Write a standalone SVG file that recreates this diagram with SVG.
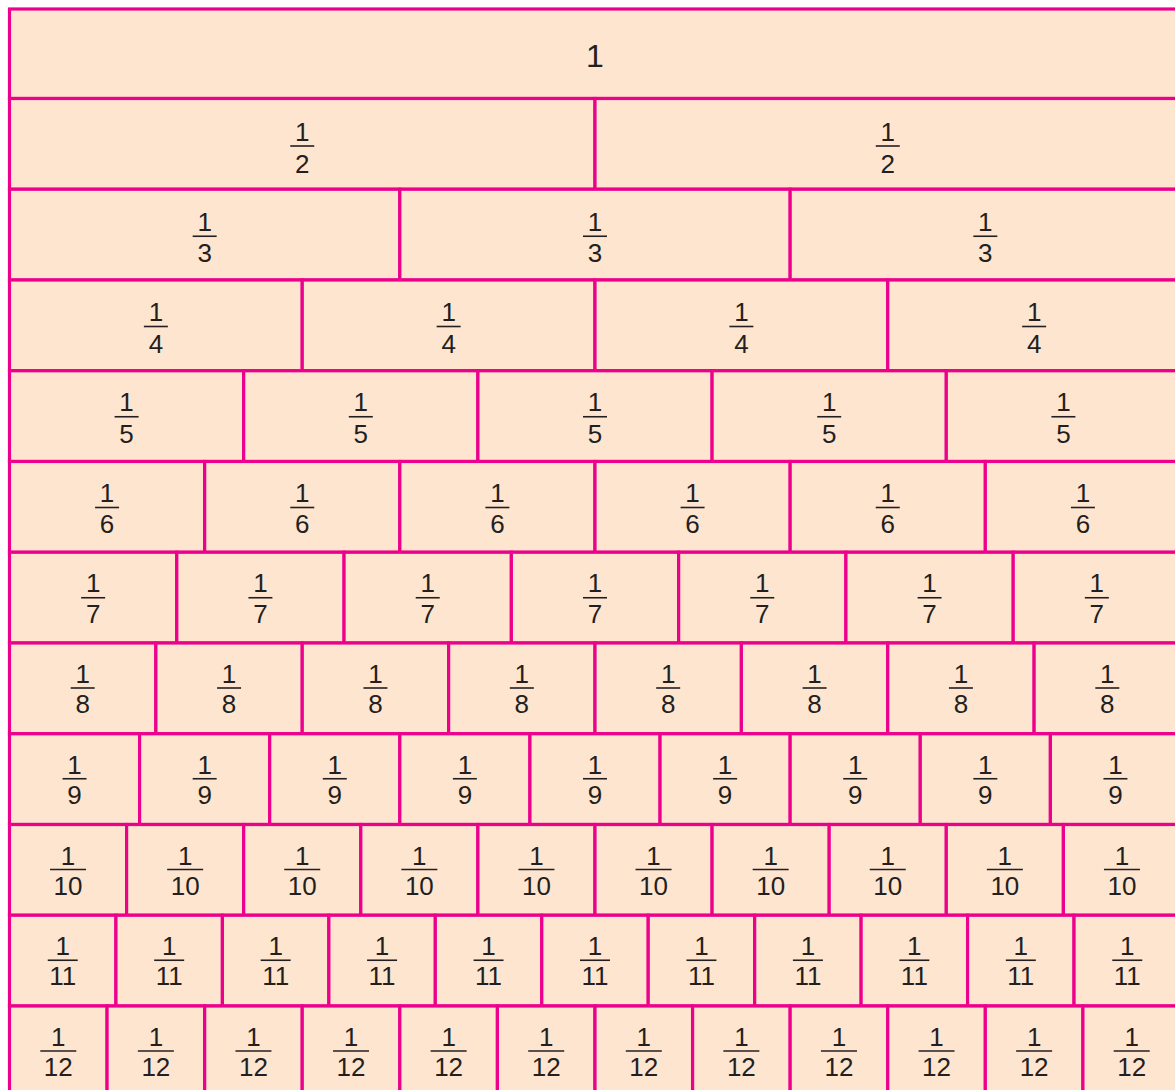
<svg xmlns="http://www.w3.org/2000/svg" width="1175" height="1090" viewBox="0 0 1175 1090">
<style>
.cell{fill:#fde5d0;stroke:#ec008c;stroke-width:3.2}
.t{font-family:"Liberation Sans","DejaVu Sans",sans-serif;font-size:26px;fill:#231f20;text-anchor:middle}
.big{font-size:32px}
.bar{stroke:#231f20;stroke-width:1.6}
</style>
<rect width="1175" height="1090" fill="#ffffff"/>
<g id="connectors"/>
<g id="row1" transform="translate(0,9)">
<g id="c1-1" transform="translate(9.5,0)"><rect class="cell" width="1171" height="89.5"/><text class="t big" x="585.5" y="58">1</text></g>
</g>
<g id="row2" transform="translate(0,98.5)">
<g id="c2-1" transform="translate(9.5,0)"><rect class="cell" width="585.5" height="90.75"/><text class="t" x="292.75" y="42">1</text><line class="bar" x1="280.75" x2="304.75" y1="47.5" y2="47.5"/><text class="t" x="292.75" y="74">2</text></g>
<g id="c2-2" transform="translate(595,0)"><rect class="cell" width="585.5" height="90.75"/><text class="t" x="292.75" y="42">1</text><line class="bar" x1="280.75" x2="304.75" y1="47.5" y2="47.5"/><text class="t" x="292.75" y="74">2</text></g>
</g>
<g id="row3" transform="translate(0,189.25)">
<g id="c3-1" transform="translate(9.5,0)"><rect class="cell" width="390.33" height="90.75"/><text class="t" x="195.17" y="41.5">1</text><line class="bar" x1="183.17" x2="207.17" y1="47" y2="47"/><text class="t" x="195.17" y="73">3</text></g>
<g id="c3-2" transform="translate(399.83,0)"><rect class="cell" width="390.33" height="90.75"/><text class="t" x="195.17" y="41.5">1</text><line class="bar" x1="183.17" x2="207.17" y1="47" y2="47"/><text class="t" x="195.17" y="73">3</text></g>
<g id="c3-3" transform="translate(790.17,0)"><rect class="cell" width="390.33" height="90.75"/><text class="t" x="195.17" y="41.5">1</text><line class="bar" x1="183.17" x2="207.17" y1="47" y2="47"/><text class="t" x="195.17" y="73">3</text></g>
</g>
<g id="row4" transform="translate(0,280)">
<g id="c4-1" transform="translate(9.5,0)"><rect class="cell" width="292.75" height="90.75"/><text class="t" x="146.38" y="41">1</text><line class="bar" x1="134.38" x2="158.38" y1="46.5" y2="46.5"/><text class="t" x="146.38" y="72.5">4</text></g>
<g id="c4-2" transform="translate(302.25,0)"><rect class="cell" width="292.75" height="90.75"/><text class="t" x="146.38" y="41">1</text><line class="bar" x1="134.38" x2="158.38" y1="46.5" y2="46.5"/><text class="t" x="146.38" y="72.5">4</text></g>
<g id="c4-3" transform="translate(595,0)"><rect class="cell" width="292.75" height="90.75"/><text class="t" x="146.38" y="41">1</text><line class="bar" x1="134.38" x2="158.38" y1="46.5" y2="46.5"/><text class="t" x="146.38" y="72.5">4</text></g>
<g id="c4-4" transform="translate(887.75,0)"><rect class="cell" width="292.75" height="90.75"/><text class="t" x="146.38" y="41">1</text><line class="bar" x1="134.38" x2="158.38" y1="46.5" y2="46.5"/><text class="t" x="146.38" y="72.5">4</text></g>
</g>
<g id="row5" transform="translate(0,370.75)">
<g id="c5-1" transform="translate(9.5,0)"><rect class="cell" width="234.2" height="90.75"/><text class="t" x="117.1" y="40.5">1</text><line class="bar" x1="105.1" x2="129.1" y1="46" y2="46"/><text class="t" x="117.1" y="72">5</text></g>
<g id="c5-2" transform="translate(243.7,0)"><rect class="cell" width="234.2" height="90.75"/><text class="t" x="117.1" y="40.5">1</text><line class="bar" x1="105.1" x2="129.1" y1="46" y2="46"/><text class="t" x="117.1" y="72">5</text></g>
<g id="c5-3" transform="translate(477.9,0)"><rect class="cell" width="234.2" height="90.75"/><text class="t" x="117.1" y="40.5">1</text><line class="bar" x1="105.1" x2="129.1" y1="46" y2="46"/><text class="t" x="117.1" y="72">5</text></g>
<g id="c5-4" transform="translate(712.1,0)"><rect class="cell" width="234.2" height="90.75"/><text class="t" x="117.1" y="40.5">1</text><line class="bar" x1="105.1" x2="129.1" y1="46" y2="46"/><text class="t" x="117.1" y="72">5</text></g>
<g id="c5-5" transform="translate(946.3,0)"><rect class="cell" width="234.2" height="90.75"/><text class="t" x="117.1" y="40.5">1</text><line class="bar" x1="105.1" x2="129.1" y1="46" y2="46"/><text class="t" x="117.1" y="72">5</text></g>
</g>
<g id="row6" transform="translate(0,461.5)">
<g id="c6-1" transform="translate(9.5,0)"><rect class="cell" width="195.17" height="90.75"/><text class="t" x="97.58" y="40.5">1</text><line class="bar" x1="85.58" x2="109.58" y1="46" y2="46"/><text class="t" x="97.58" y="71.5">6</text></g>
<g id="c6-2" transform="translate(204.67,0)"><rect class="cell" width="195.17" height="90.75"/><text class="t" x="97.58" y="40.5">1</text><line class="bar" x1="85.58" x2="109.58" y1="46" y2="46"/><text class="t" x="97.58" y="71.5">6</text></g>
<g id="c6-3" transform="translate(399.83,0)"><rect class="cell" width="195.17" height="90.75"/><text class="t" x="97.58" y="40.5">1</text><line class="bar" x1="85.58" x2="109.58" y1="46" y2="46"/><text class="t" x="97.58" y="71.5">6</text></g>
<g id="c6-4" transform="translate(595,0)"><rect class="cell" width="195.17" height="90.75"/><text class="t" x="97.58" y="40.5">1</text><line class="bar" x1="85.58" x2="109.58" y1="46" y2="46"/><text class="t" x="97.58" y="71.5">6</text></g>
<g id="c6-5" transform="translate(790.17,0)"><rect class="cell" width="195.17" height="90.75"/><text class="t" x="97.58" y="40.5">1</text><line class="bar" x1="85.58" x2="109.58" y1="46" y2="46"/><text class="t" x="97.58" y="71.5">6</text></g>
<g id="c6-6" transform="translate(985.33,0)"><rect class="cell" width="195.17" height="90.75"/><text class="t" x="97.58" y="40.5">1</text><line class="bar" x1="85.58" x2="109.58" y1="46" y2="46"/><text class="t" x="97.58" y="71.5">6</text></g>
</g>
<g id="row7" transform="translate(0,552.25)">
<g id="c7-1" transform="translate(9.5,0)"><rect class="cell" width="167.29" height="90.75"/><text class="t" x="83.64" y="40">1</text><line class="bar" x1="71.64" x2="95.64" y1="45.5" y2="45.5"/><text class="t" x="83.64" y="71">7</text></g>
<g id="c7-2" transform="translate(176.79,0)"><rect class="cell" width="167.29" height="90.75"/><text class="t" x="83.64" y="40">1</text><line class="bar" x1="71.64" x2="95.64" y1="45.5" y2="45.5"/><text class="t" x="83.64" y="71">7</text></g>
<g id="c7-3" transform="translate(344.07,0)"><rect class="cell" width="167.29" height="90.75"/><text class="t" x="83.64" y="40">1</text><line class="bar" x1="71.64" x2="95.64" y1="45.5" y2="45.5"/><text class="t" x="83.64" y="71">7</text></g>
<g id="c7-4" transform="translate(511.36,0)"><rect class="cell" width="167.29" height="90.75"/><text class="t" x="83.64" y="40">1</text><line class="bar" x1="71.64" x2="95.64" y1="45.5" y2="45.5"/><text class="t" x="83.64" y="71">7</text></g>
<g id="c7-5" transform="translate(678.64,0)"><rect class="cell" width="167.29" height="90.75"/><text class="t" x="83.64" y="40">1</text><line class="bar" x1="71.64" x2="95.64" y1="45.5" y2="45.5"/><text class="t" x="83.64" y="71">7</text></g>
<g id="c7-6" transform="translate(845.93,0)"><rect class="cell" width="167.29" height="90.75"/><text class="t" x="83.64" y="40">1</text><line class="bar" x1="71.64" x2="95.64" y1="45.5" y2="45.5"/><text class="t" x="83.64" y="71">7</text></g>
<g id="c7-7" transform="translate(1013.21,0)"><rect class="cell" width="167.29" height="90.75"/><text class="t" x="83.64" y="40">1</text><line class="bar" x1="71.64" x2="95.64" y1="45.5" y2="45.5"/><text class="t" x="83.64" y="71">7</text></g>
</g>
<g id="row8" transform="translate(0,643)">
<g id="c8-1" transform="translate(9.5,0)"><rect class="cell" width="146.38" height="90.75"/><text class="t" x="73.19" y="40">1</text><line class="bar" x1="61.19" x2="85.19" y1="45" y2="45"/><text class="t" x="73.19" y="70">8</text></g>
<g id="c8-2" transform="translate(155.88,0)"><rect class="cell" width="146.38" height="90.75"/><text class="t" x="73.19" y="40">1</text><line class="bar" x1="61.19" x2="85.19" y1="45" y2="45"/><text class="t" x="73.19" y="70">8</text></g>
<g id="c8-3" transform="translate(302.25,0)"><rect class="cell" width="146.38" height="90.75"/><text class="t" x="73.19" y="40">1</text><line class="bar" x1="61.19" x2="85.19" y1="45" y2="45"/><text class="t" x="73.19" y="70">8</text></g>
<g id="c8-4" transform="translate(448.63,0)"><rect class="cell" width="146.38" height="90.75"/><text class="t" x="73.19" y="40">1</text><line class="bar" x1="61.19" x2="85.19" y1="45" y2="45"/><text class="t" x="73.19" y="70">8</text></g>
<g id="c8-5" transform="translate(595,0)"><rect class="cell" width="146.38" height="90.75"/><text class="t" x="73.19" y="40">1</text><line class="bar" x1="61.19" x2="85.19" y1="45" y2="45"/><text class="t" x="73.19" y="70">8</text></g>
<g id="c8-6" transform="translate(741.38,0)"><rect class="cell" width="146.38" height="90.75"/><text class="t" x="73.19" y="40">1</text><line class="bar" x1="61.19" x2="85.19" y1="45" y2="45"/><text class="t" x="73.19" y="70">8</text></g>
<g id="c8-7" transform="translate(887.75,0)"><rect class="cell" width="146.38" height="90.75"/><text class="t" x="73.19" y="40">1</text><line class="bar" x1="61.19" x2="85.19" y1="45" y2="45"/><text class="t" x="73.19" y="70">8</text></g>
<g id="c8-8" transform="translate(1034.13,0)"><rect class="cell" width="146.38" height="90.75"/><text class="t" x="73.19" y="40">1</text><line class="bar" x1="61.19" x2="85.19" y1="45" y2="45"/><text class="t" x="73.19" y="70">8</text></g>
</g>
<g id="row9" transform="translate(0,733.75)">
<g id="c9-1" transform="translate(9.5,0)"><rect class="cell" width="130.11" height="90.75"/><text class="t" x="65.06" y="40">1</text><line class="bar" x1="53.06" x2="77.06" y1="45" y2="45"/><text class="t" x="65.06" y="70">9</text></g>
<g id="c9-2" transform="translate(139.61,0)"><rect class="cell" width="130.11" height="90.75"/><text class="t" x="65.06" y="40">1</text><line class="bar" x1="53.06" x2="77.06" y1="45" y2="45"/><text class="t" x="65.06" y="70">9</text></g>
<g id="c9-3" transform="translate(269.72,0)"><rect class="cell" width="130.11" height="90.75"/><text class="t" x="65.06" y="40">1</text><line class="bar" x1="53.06" x2="77.06" y1="45" y2="45"/><text class="t" x="65.06" y="70">9</text></g>
<g id="c9-4" transform="translate(399.83,0)"><rect class="cell" width="130.11" height="90.75"/><text class="t" x="65.06" y="40">1</text><line class="bar" x1="53.06" x2="77.06" y1="45" y2="45"/><text class="t" x="65.06" y="70">9</text></g>
<g id="c9-5" transform="translate(529.94,0)"><rect class="cell" width="130.11" height="90.75"/><text class="t" x="65.06" y="40">1</text><line class="bar" x1="53.06" x2="77.06" y1="45" y2="45"/><text class="t" x="65.06" y="70">9</text></g>
<g id="c9-6" transform="translate(660.06,0)"><rect class="cell" width="130.11" height="90.75"/><text class="t" x="65.06" y="40">1</text><line class="bar" x1="53.06" x2="77.06" y1="45" y2="45"/><text class="t" x="65.06" y="70">9</text></g>
<g id="c9-7" transform="translate(790.17,0)"><rect class="cell" width="130.11" height="90.75"/><text class="t" x="65.06" y="40">1</text><line class="bar" x1="53.06" x2="77.06" y1="45" y2="45"/><text class="t" x="65.06" y="70">9</text></g>
<g id="c9-8" transform="translate(920.28,0)"><rect class="cell" width="130.11" height="90.75"/><text class="t" x="65.06" y="40">1</text><line class="bar" x1="53.06" x2="77.06" y1="45" y2="45"/><text class="t" x="65.06" y="70">9</text></g>
<g id="c9-9" transform="translate(1050.39,0)"><rect class="cell" width="130.11" height="90.75"/><text class="t" x="65.06" y="40">1</text><line class="bar" x1="53.06" x2="77.06" y1="45" y2="45"/><text class="t" x="65.06" y="70">9</text></g>
</g>
<g id="row10" transform="translate(0,824.5)">
<g id="c10-1" transform="translate(9.5,0)"><rect class="cell" width="117.1" height="90.75"/><text class="t" x="58.55" y="40">1</text><line class="bar" x1="40.55" x2="76.55" y1="45" y2="45"/><text class="t" x="58.55" y="70">10</text></g>
<g id="c10-2" transform="translate(126.6,0)"><rect class="cell" width="117.1" height="90.75"/><text class="t" x="58.55" y="40">1</text><line class="bar" x1="40.55" x2="76.55" y1="45" y2="45"/><text class="t" x="58.55" y="70">10</text></g>
<g id="c10-3" transform="translate(243.7,0)"><rect class="cell" width="117.1" height="90.75"/><text class="t" x="58.55" y="40">1</text><line class="bar" x1="40.55" x2="76.55" y1="45" y2="45"/><text class="t" x="58.55" y="70">10</text></g>
<g id="c10-4" transform="translate(360.8,0)"><rect class="cell" width="117.1" height="90.75"/><text class="t" x="58.55" y="40">1</text><line class="bar" x1="40.55" x2="76.55" y1="45" y2="45"/><text class="t" x="58.55" y="70">10</text></g>
<g id="c10-5" transform="translate(477.9,0)"><rect class="cell" width="117.1" height="90.75"/><text class="t" x="58.55" y="40">1</text><line class="bar" x1="40.55" x2="76.55" y1="45" y2="45"/><text class="t" x="58.55" y="70">10</text></g>
<g id="c10-6" transform="translate(595,0)"><rect class="cell" width="117.1" height="90.75"/><text class="t" x="58.55" y="40">1</text><line class="bar" x1="40.55" x2="76.55" y1="45" y2="45"/><text class="t" x="58.55" y="70">10</text></g>
<g id="c10-7" transform="translate(712.1,0)"><rect class="cell" width="117.1" height="90.75"/><text class="t" x="58.55" y="40">1</text><line class="bar" x1="40.55" x2="76.55" y1="45" y2="45"/><text class="t" x="58.55" y="70">10</text></g>
<g id="c10-8" transform="translate(829.2,0)"><rect class="cell" width="117.1" height="90.75"/><text class="t" x="58.55" y="40">1</text><line class="bar" x1="40.55" x2="76.55" y1="45" y2="45"/><text class="t" x="58.55" y="70">10</text></g>
<g id="c10-9" transform="translate(946.3,0)"><rect class="cell" width="117.1" height="90.75"/><text class="t" x="58.55" y="40">1</text><line class="bar" x1="40.55" x2="76.55" y1="45" y2="45"/><text class="t" x="58.55" y="70">10</text></g>
<g id="c10-10" transform="translate(1063.4,0)"><rect class="cell" width="117.1" height="90.75"/><text class="t" x="58.55" y="40">1</text><line class="bar" x1="40.55" x2="76.55" y1="45" y2="45"/><text class="t" x="58.55" y="70">10</text></g>
</g>
<g id="row11" transform="translate(0,915.25)">
<g id="c11-1" transform="translate(9.5,0)"><rect class="cell" width="106.45" height="90.75"/><text class="t" x="53.23" y="40">1</text><line class="bar" x1="38.23" x2="68.23" y1="45" y2="45"/><text class="t" x="53.23" y="70">11</text></g>
<g id="c11-2" transform="translate(115.95,0)"><rect class="cell" width="106.45" height="90.75"/><text class="t" x="53.23" y="40">1</text><line class="bar" x1="38.23" x2="68.23" y1="45" y2="45"/><text class="t" x="53.23" y="70">11</text></g>
<g id="c11-3" transform="translate(222.41,0)"><rect class="cell" width="106.45" height="90.75"/><text class="t" x="53.23" y="40">1</text><line class="bar" x1="38.23" x2="68.23" y1="45" y2="45"/><text class="t" x="53.23" y="70">11</text></g>
<g id="c11-4" transform="translate(328.86,0)"><rect class="cell" width="106.45" height="90.75"/><text class="t" x="53.23" y="40">1</text><line class="bar" x1="38.23" x2="68.23" y1="45" y2="45"/><text class="t" x="53.23" y="70">11</text></g>
<g id="c11-5" transform="translate(435.32,0)"><rect class="cell" width="106.45" height="90.75"/><text class="t" x="53.23" y="40">1</text><line class="bar" x1="38.23" x2="68.23" y1="45" y2="45"/><text class="t" x="53.23" y="70">11</text></g>
<g id="c11-6" transform="translate(541.77,0)"><rect class="cell" width="106.45" height="90.75"/><text class="t" x="53.23" y="40">1</text><line class="bar" x1="38.23" x2="68.23" y1="45" y2="45"/><text class="t" x="53.23" y="70">11</text></g>
<g id="c11-7" transform="translate(648.23,0)"><rect class="cell" width="106.45" height="90.75"/><text class="t" x="53.23" y="40">1</text><line class="bar" x1="38.23" x2="68.23" y1="45" y2="45"/><text class="t" x="53.23" y="70">11</text></g>
<g id="c11-8" transform="translate(754.68,0)"><rect class="cell" width="106.45" height="90.75"/><text class="t" x="53.23" y="40">1</text><line class="bar" x1="38.23" x2="68.23" y1="45" y2="45"/><text class="t" x="53.23" y="70">11</text></g>
<g id="c11-9" transform="translate(861.14,0)"><rect class="cell" width="106.45" height="90.75"/><text class="t" x="53.23" y="40">1</text><line class="bar" x1="38.23" x2="68.23" y1="45" y2="45"/><text class="t" x="53.23" y="70">11</text></g>
<g id="c11-10" transform="translate(967.59,0)"><rect class="cell" width="106.45" height="90.75"/><text class="t" x="53.23" y="40">1</text><line class="bar" x1="38.23" x2="68.23" y1="45" y2="45"/><text class="t" x="53.23" y="70">11</text></g>
<g id="c11-11" transform="translate(1074.05,0)"><rect class="cell" width="106.45" height="90.75"/><text class="t" x="53.23" y="40">1</text><line class="bar" x1="38.23" x2="68.23" y1="45" y2="45"/><text class="t" x="53.23" y="70">11</text></g>
</g>
<g id="row12" transform="translate(0,1006)">
<g id="c12-1" transform="translate(9.5,0)"><rect class="cell" width="97.58" height="90.75"/><text class="t" x="48.79" y="40">1</text><line class="bar" x1="30.79" x2="66.79" y1="45" y2="45"/><text class="t" x="48.79" y="70">12</text></g>
<g id="c12-2" transform="translate(107.08,0)"><rect class="cell" width="97.58" height="90.75"/><text class="t" x="48.79" y="40">1</text><line class="bar" x1="30.79" x2="66.79" y1="45" y2="45"/><text class="t" x="48.79" y="70">12</text></g>
<g id="c12-3" transform="translate(204.67,0)"><rect class="cell" width="97.58" height="90.75"/><text class="t" x="48.79" y="40">1</text><line class="bar" x1="30.79" x2="66.79" y1="45" y2="45"/><text class="t" x="48.79" y="70">12</text></g>
<g id="c12-4" transform="translate(302.25,0)"><rect class="cell" width="97.58" height="90.75"/><text class="t" x="48.79" y="40">1</text><line class="bar" x1="30.79" x2="66.79" y1="45" y2="45"/><text class="t" x="48.79" y="70">12</text></g>
<g id="c12-5" transform="translate(399.83,0)"><rect class="cell" width="97.58" height="90.75"/><text class="t" x="48.79" y="40">1</text><line class="bar" x1="30.79" x2="66.79" y1="45" y2="45"/><text class="t" x="48.79" y="70">12</text></g>
<g id="c12-6" transform="translate(497.42,0)"><rect class="cell" width="97.58" height="90.75"/><text class="t" x="48.79" y="40">1</text><line class="bar" x1="30.79" x2="66.79" y1="45" y2="45"/><text class="t" x="48.79" y="70">12</text></g>
<g id="c12-7" transform="translate(595,0)"><rect class="cell" width="97.58" height="90.75"/><text class="t" x="48.79" y="40">1</text><line class="bar" x1="30.79" x2="66.79" y1="45" y2="45"/><text class="t" x="48.79" y="70">12</text></g>
<g id="c12-8" transform="translate(692.58,0)"><rect class="cell" width="97.58" height="90.75"/><text class="t" x="48.79" y="40">1</text><line class="bar" x1="30.79" x2="66.79" y1="45" y2="45"/><text class="t" x="48.79" y="70">12</text></g>
<g id="c12-9" transform="translate(790.17,0)"><rect class="cell" width="97.58" height="90.75"/><text class="t" x="48.79" y="40">1</text><line class="bar" x1="30.79" x2="66.79" y1="45" y2="45"/><text class="t" x="48.79" y="70">12</text></g>
<g id="c12-10" transform="translate(887.75,0)"><rect class="cell" width="97.58" height="90.75"/><text class="t" x="48.79" y="40">1</text><line class="bar" x1="30.79" x2="66.79" y1="45" y2="45"/><text class="t" x="48.79" y="70">12</text></g>
<g id="c12-11" transform="translate(985.33,0)"><rect class="cell" width="97.58" height="90.75"/><text class="t" x="48.79" y="40">1</text><line class="bar" x1="30.79" x2="66.79" y1="45" y2="45"/><text class="t" x="48.79" y="70">12</text></g>
<g id="c12-12" transform="translate(1082.92,0)"><rect class="cell" width="97.58" height="90.75"/><text class="t" x="48.79" y="40">1</text><line class="bar" x1="30.79" x2="66.79" y1="45" y2="45"/><text class="t" x="48.79" y="70">12</text></g>
</g>
</svg>
